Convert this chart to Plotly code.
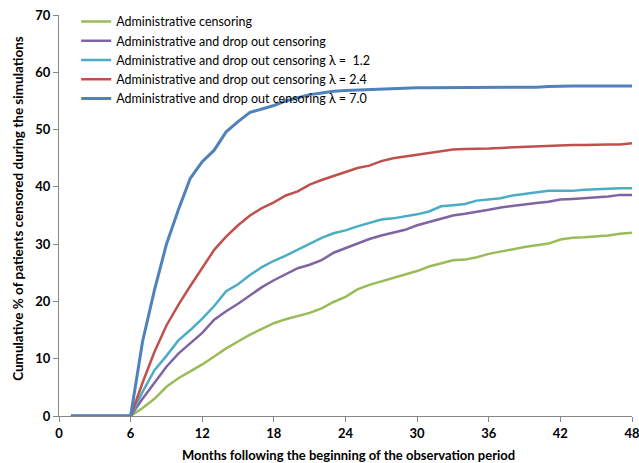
import plotly.graph_objects as go

months = list(range(1, 49))

admin = [0, 0, 0, 0, 0, 0, 1.4, 3.0, 5.1, 6.6, 7.8, 9.0, 10.4, 11.8, 13.0, 14.2, 15.2, 16.2,
         16.9, 17.5, 18.0, 18.8, 19.9, 20.8, 22.1, 22.9, 23.5, 24.0, 24.6, 25.3, 26.1, 26.6,
         27.2, 27.3, 27.7, 28.3, 28.7, 29.2, 29.5, 29.8, 30.1, 30.8, 31.1, 31.2, 31.3, 31.5,
         31.8, 32.0]
dropout = [0, 0, 0, 0, 0, 0, 3.0, 5.8, 8.6, 10.9, 12.7, 14.5, 16.8, 18.3, 19.6, 21.1, 22.5,
           23.7, 24.7, 25.8, 26.4, 27.2, 28.5, 29.3, 30.2, 30.9, 31.5, 32.0, 32.5, 33.3, 33.9,
           34.5, 35.0, 35.3, 35.6, 36.0, 36.4, 36.7, 37.0, 37.2, 37.4, 37.8, 37.9, 38.0, 38.2,
           38.3, 38.6, 38.6]
lam12 = [0, 0, 0, 0, 0, 0, 4.2, 8.0, 10.5, 13.2, 15.0, 17.0, 19.2, 21.8, 23.0, 24.6, 26.0,
         27.1, 28.0, 29.0, 30.1, 31.1, 31.9, 32.4, 33.1, 33.7, 34.3, 34.5, 34.8, 35.2, 35.7,
         36.6, 36.8, 37.0, 37.6, 37.8, 38.0, 38.5, 38.8, 39.0, 39.3, 39.3, 39.3, 39.5, 39.6,
         39.75, 39.75, 39.75]
lam24 = [0, 0, 0, 0, 0, 0, 5.8, 11.2, 15.8, 19.4, 22.7, 25.8, 29.0, 31.3, 33.3, 35.0, 36.3,
         37.3, 38.5, 39.2, 40.4, 41.2, 41.9, 42.5, 43.3, 43.7, 44.5, 45.0, 45.3, 45.6, 45.9,
         46.2, 46.5, 46.6, 46.6, 46.7, 46.8, 46.9, 47.0, 47.1, 47.2, 47.3, 47.3, 47.3, 47.4,
         47.4, 47.4, 47.6]
lam70 = [0, 0, 0, 0, 0, 0, 13.0, 22.0, 30.0, 36.0, 41.5, 44.4, 46.4, 49.6, 51.4, 53.0, 53.6,
         54.2, 55.0, 55.6, 56.1, 56.4, 56.7, 56.8, 56.9, 57.0, 57.1, 57.2, 57.2, 57.3, 57.3,
         57.3, 57.4, 57.4, 57.4, 57.4, 57.4, 57.4, 57.4, 57.4, 57.5, 57.6, 57.6, 57.6, 57.6,
         57.6, 57.6, 57.6]

series_names = [
    "Administrative censoring",
    "Administrative and drop out censoring",
    "Administrative and drop out censoring \u03bb =\u00a0 1.2",
    "Administrative and drop out censoring \u03bb = 2.4",
    "Administrative and drop out censoring \u03bb = 7.0",
]
series_values = [admin, dropout, lam12, lam24, lam70]
series_colors = ["#9BBB59", "#8064A2", "#4BACC6", "#C0504D", "#4F81BD"]
series_widths = [2.5, 2.5, 2.5, 2.5, 3]

x_ticks = [0, 6, 12, 18, 24, 30, 36, 42, 48]
y_ticks = [0, 10, 20, 30, 40, 50, 60, 70]

x_title = "Months following the beginning of the observation period"
y_title = "Cumulative % of patients censored during the simulations"

fig = go.Figure()
for name, vals, col, w in zip(series_names, series_values, series_colors, series_widths):
    fig.add_trace(go.Scatter(x=months, y=vals, mode="lines", name=name,
                             line=dict(color=col, width=w)))

FAM = "Lato, Carlito, Calibri, sans-serif"
tick_font = dict(family=FAM, size=13, color="black", weight="bold")
xtitle_font = dict(family=FAM, size=13, color="black", weight="bold")
ytitle_font = dict(family=FAM, size=13.5, color="black", weight="bold")

fig.update_layout(
    width=639, height=463,
    margin=dict(l=59, r=7, t=15, b=47, autoexpand=False),
    paper_bgcolor="white", plot_bgcolor="white",
    font=dict(family=FAM, size=12, color="black"),
    showlegend=True,
    legend=dict(x=0.03, y=1.02, xanchor="left", yanchor="top",
                bgcolor="rgba(0,0,0,0)", itemwidth=30,
                font=dict(family=FAM, size=12.5, color="black"), tracegroupgap=0),
    xaxis=dict(range=[0, 48], tickvals=x_ticks, ticktext=[str(v) for v in x_ticks],
               showgrid=False, zeroline=False, showline=True, linecolor="#868686",
               linewidth=1, ticks="outside", ticklen=5, tickcolor="#868686",
               tickfont=tick_font, automargin=False, ticklabeloverflow="allow"),
    yaxis=dict(range=[0, 70], tickvals=y_ticks, ticktext=[str(v) for v in y_ticks],
               showgrid=False, zeroline=False, showline=True, linecolor="#868686",
               linewidth=1, ticks="outside", ticklen=5, tickcolor="#868686",
               tickfont=tick_font, automargin=False, ticklabeloverflow="allow"),
    annotations=[
        dict(text=x_title, xref="paper", yref="paper", x=0.506, y=-0.098,
             xanchor="center", yanchor="middle", showarrow=False, font=xtitle_font),
        dict(text=y_title, xref="paper", yref="paper", x=-0.0716, y=0.519,
             xanchor="center", yanchor="middle", textangle=-90, showarrow=False,
             font=ytitle_font),
    ],
)

fig.write_html("out.html", config={"displayModeBar": False},
               post_script="document.body.style.margin='0';document.body.style.overflow='hidden';")
